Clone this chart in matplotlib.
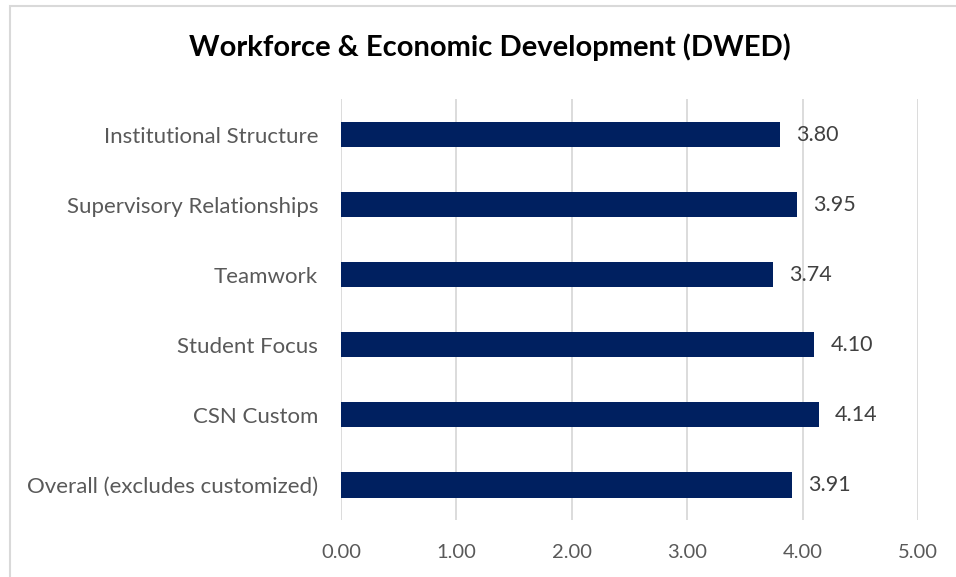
import matplotlib
matplotlib.use("Agg")
import matplotlib.pyplot as plt
from matplotlib.patches import Rectangle

categories = [
    "Institutional Structure",
    "Supervisory Relationships",
    "Teamwork",
    "Student Focus",
    "CSN Custom",
    "Overall (excludes customized)",
]
scores = [3.80, 3.95, 3.74, 4.10, 4.14, 3.91]
x_ticks = [0, 1, 2, 3, 4, 5]

BAR_COLOR = "#002060"
TEXT_COLOR = "#595959"
GRID_COLOR = "#d9d9d9"

plt.rcParams["font.family"] = ["Lato", "DejaVu Sans"]

fig = plt.figure(figsize=(9.56, 5.77), dpi=100)
ax = fig.add_axes([0.3567, 0.0988, 0.6036, 0.7288])

# first category at the top
y_pos = list(range(len(categories)))[::-1]
ax.barh(y_pos, scores, height=0.36, color=BAR_COLOR, zorder=3)

for y, v in zip(y_pos, scores):
    ax.text(v + 0.14, y, f"{v:.2f}", va="center", ha="left",
            fontsize=15.5, color="#404040")

ax.set_xlim(0, 5)
ax.set_ylim(-0.5, len(categories) - 0.5)
ax.set_xticks(x_ticks)
ax.set_xticklabels([f"{t:.2f}" for t in x_ticks])
ax.set_yticks(y_pos)
ax.set_yticklabels(categories)
ax.tick_params(axis="both", length=0, labelcolor=TEXT_COLOR)
ax.tick_params(axis="x", pad=17, labelsize=14.5)
ax.tick_params(axis="y", pad=16.5, labelsize=16)

ax.grid(axis="x", color=GRID_COLOR, linewidth=1.3, zorder=0)
for s in ax.spines.values():
    s.set_visible(False)

fig.text(0.512, 0.918, "Workforce & Economic Development (DWED)",
         ha="center", va="center", fontsize=21, fontweight="bold", color="black")

# chart frame
fig.patches.append(Rectangle((9.5 / 956, -0.1), 1.2, 1.1 - 6.5 / 577,
                             transform=fig.transFigure, fill=False,
                             edgecolor=GRID_COLOR, linewidth=1.5))

fig.savefig("out.png", dpi=100)
